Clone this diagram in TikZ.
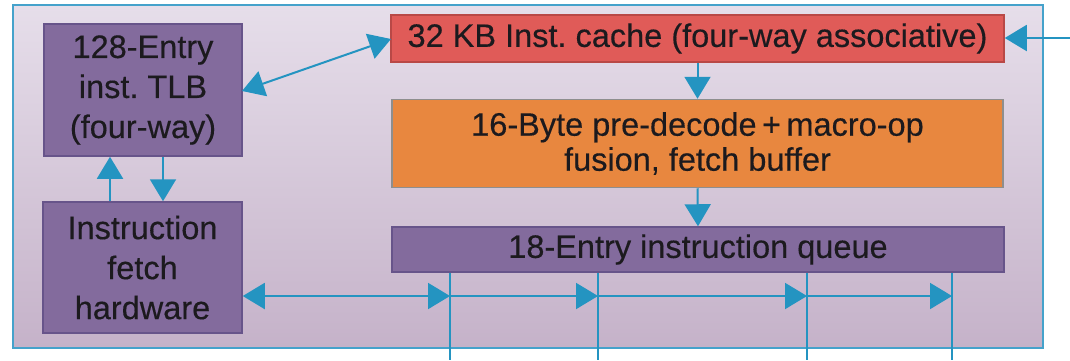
\documentclass[tikz,border=0pt]{standalone}
\usepackage{fontspec}
\setmainfont{Liberation Sans}
\newfontfamily\labelfont{Liberation Sans}[FakeBold=0.35]
\usetikzlibrary{arrows.meta}
\frenchspacing

\definecolor{framefill1}{HTML}{E6DEEA}
\definecolor{framefill2}{HTML}{C5B2C9}
\definecolor{frameline}{HTML}{45A2CB}
\definecolor{wire}{HTML}{2494C1}
\definecolor{purplefill}{HTML}{836B9D}
\definecolor{purpleline}{HTML}{67548A}
\definecolor{cachefill}{HTML}{E05B58}
\definecolor{cacheline}{HTML}{B94846}
\definecolor{orangefill}{HTML}{E8873F}
\definecolor{orangeline}{HTML}{8E8E8E}
\definecolor{inktext}{HTML}{1C1A1E}

\tikzset{
  unitbox/.style={draw, line width=1.5pt, inner sep=0pt, align=center,
    text=inktext, font=\labelfont\fontsize{32.5}{40}\selectfont},
  purplebox/.style={unitbox, fill=purplefill, draw=purpleline},
  cachebox/.style={unitbox, fill=cachefill, draw=cacheline},
  orangebox/.style={unitbox, fill=orangefill, draw=orangeline,
    font=\labelfont\fontsize{32.5}{35}\selectfont},
  wireline/.style={draw=wire, line width=2pt},
  tip/.style={wireline, -{Triangle[length=22pt,width=26pt]}},
  dtip/.style={wireline, {Triangle[length=22pt,width=26pt]}-{Triangle[length=22pt,width=26pt]}}
}

\begin{document}
\begin{tikzpicture}[x=1pt,y=-1pt]
  \useasboundingbox (0,0) rectangle (1070,360);

  % enclosing fetch-unit frame
  \node[draw=frameline, line width=2.2pt, top color=framefill1,
        bottom color=framefill2, minimum width=1030pt, minimum height=343pt,
        inner sep=0pt] (frame) at (528,176.5) {};

  % functional blocks
  \node[purplebox, minimum width=198pt, minimum height=132pt] (tlb) at (143,90)
    {128-Entry\\inst. TLB\\(four-way)};
  \node[purplebox, minimum width=199pt, minimum height=131pt] (fetch) at (142.5,267.5)
    {Instruction\\fetch\\hardware};
  \node[cachebox, minimum width=613pt, minimum height=47pt] (cache) at (697.5,38.5)
    {32 KB Inst. cache (four-way associative)};
  \node[orangebox, minimum width=611pt, minimum height=88pt] (pre) at (697.5,143.5)
    {16-Byte pre-decode\,+\,macro-op\\fusion, fetch buffer};
  \node[purplebox, minimum width=612pt, minimum height=45pt] (queue) at (698,249.5)
    {18-Entry instruction queue};

  % connection points
  \coordinate (in) at (1070,38);
  \coordinate (t1) at (450,296);
  \coordinate (t2) at (598,296);
  \coordinate (t3) at (807,296);
  \coordinate (t4) at (952,296);
  \coordinate (b1) at (450,360);
  \coordinate (b2) at (598,360);
  \coordinate (b3) at (807,360);
  \coordinate (b4) at (952,360);
  \coordinate (u1) at (110,0);
  \coordinate (u2) at (163,0);
  \coordinate (tlbport) at (242,91);
  \coordinate (cacheport) at (391,39);

  % instruction output taps below the queue
  \draw[wireline] (t1 |- queue.south) -- (b1);
  \draw[wireline] (t2 |- queue.south) -- (b2);
  \draw[wireline] (t3 |- queue.south) -- (b3);
  \draw[wireline] (t4 |- queue.south) -- (b4);

  % fetch path
  \draw[tip] (in) -- (cache.east |- in);
  \draw[tip] (cache.south) -- (pre.north);
  \draw[tip] (pre.south) -- (queue.north);
  \draw[dtip] (tlbport) -- (cacheport);
  \draw[tip] (u1 |- fetch.north) -- (u1 |- tlb.south);
  \draw[tip] (u2 |- tlb.south) -- (u2 |- fetch.north);
  \draw[dtip] (fetch.east |- t1) -- (t1);
  \draw[tip] (t1) -- (t2);
  \draw[tip] (t2) -- (t3);
  \draw[tip] (t3) -- (t4);
\end{tikzpicture}
\end{document}
